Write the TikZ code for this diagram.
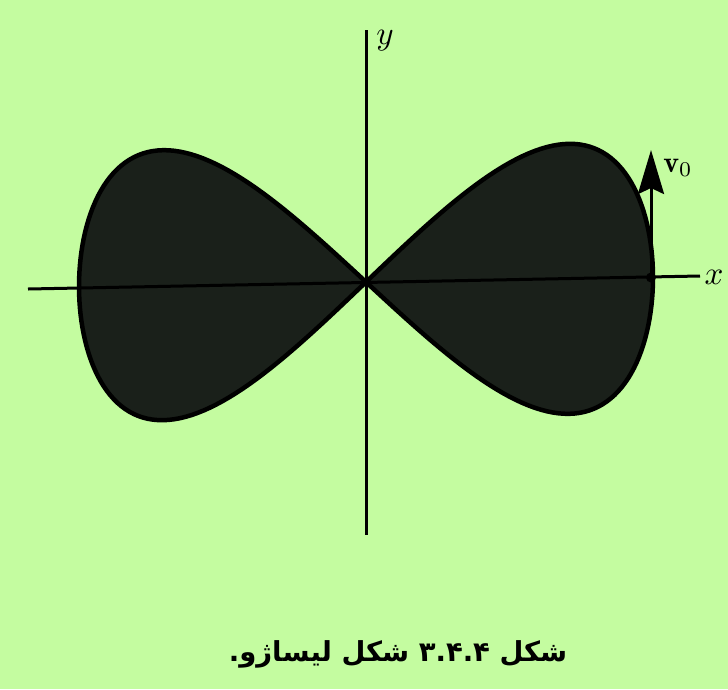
\documentclass[tikz,border=0pt]{standalone}
\usepackage{fontspec}
\newfontfamily\arabicfont[Script=Arabic]{DejaVu Sans}
\TeXXeTstate=1
\usetikzlibrary{arrows.meta}
\definecolor{paper}{RGB}{196,252,160}
\definecolor{ink}{RGB}{26,32,26}
\tikzset{axisline/.style={line width=3pt},
  lbl/.style={inner sep=0pt}}

\begin{document}
\begin{tikzpicture}[x=1pt,y=-1pt]
\fill[paper] (0,0) rectangle (728,689);
\useasboundingbox (0,0) rectangle (728,689);
\coordinate (xl) at (28,289);
\coordinate (xr) at (700,276);
\coordinate (yt) at (366,30);
\coordinate (yb) at (366,535);
\coordinate (p0) at (651,277.5);
\coordinate (v0) at (651,150);
% the figure eight
\filldraw[fill=ink,draw=black,line width=4.5pt,line join=round]
  plot[variable=\t,domain=0:360,samples=241] ({366+287*cos(\t)},{282-135*sin(2*\t)-4.5*cos(\t)}) -- cycle;
\draw[axisline] (xl) -- (xr);
\draw[axisline] (yt) -- (yb);
\fill (p0) circle (5);
\draw[line width=3pt,-{Stealth[length=44pt,width=26pt,inset=6pt]}] (p0) -- (v0);
\node[lbl,scale=3.3] (ylab) at (385,41) {$y$};
\node[lbl,scale=3.3] (xlab) at (714,277) {$x$};
\node[lbl,scale=3] (vlab) at (678,168) {$\mathbf{v}_0$};
\node (cap) at (398,654) {\arabicfont\bfseries\fontsize{27.5}{32}\selectfont\beginR شکل \beginL۳.۴.۴\endL{} شکل لیساژو.\endR};
\end{tikzpicture}
\end{document}
